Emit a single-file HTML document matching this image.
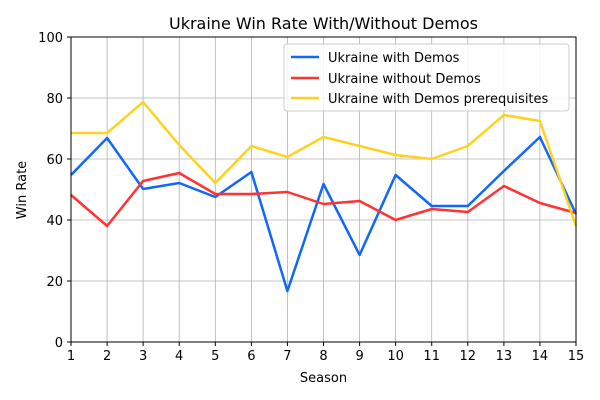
<!DOCTYPE html>
<html><head><meta charset="utf-8"><style>body{margin:0;background:#fff}svg{display:block;font-family:"DejaVu Sans","Liberation Sans",sans-serif}</style></head><body>
<svg width="600" height="400" viewBox="0 0 600 400">
<rect width="600" height="400" fill="#fff"/>
<g stroke="#b0b0b0" stroke-width="0.8">
<line x1="107.1" y1="37" x2="107.1" y2="342"/><line x1="143.1" y1="37" x2="143.1" y2="342"/><line x1="179.2" y1="37" x2="179.2" y2="342"/><line x1="215.3" y1="37" x2="215.3" y2="342"/><line x1="251.4" y1="37" x2="251.4" y2="342"/><line x1="287.4" y1="37" x2="287.4" y2="342"/><line x1="323.5" y1="37" x2="323.5" y2="342"/><line x1="359.6" y1="37" x2="359.6" y2="342"/><line x1="395.6" y1="37" x2="395.6" y2="342"/><line x1="431.7" y1="37" x2="431.7" y2="342"/><line x1="467.8" y1="37" x2="467.8" y2="342"/><line x1="503.9" y1="37" x2="503.9" y2="342"/><line x1="539.9" y1="37" x2="539.9" y2="342"/>
<line x1="71" y1="281" x2="576" y2="281"/><line x1="71" y1="220" x2="576" y2="220"/><line x1="71" y1="159" x2="576" y2="159"/><line x1="71" y1="98" x2="576" y2="98"/>
</g>
<g fill="none" stroke-width="2.5" stroke-linejoin="round">
<polyline stroke="#0f68fb" points="71,175 107.1,138 143.1,189 179.2,183 215.3,197 251.4,172 287.4,291 323.5,184 359.6,255 395.6,175 431.7,206 467.8,206 503.9,171 539.9,137 576,214"/>
<polyline stroke="#ff3333" points="71,195 107.1,226 143.1,181 179.2,173 215.3,194 251.4,194 287.4,192 323.5,204 359.6,201 395.6,220 431.7,209 467.8,212 503.9,186 539.9,203 576,213"/>
<polyline stroke="#ffd21f" points="71,133 107.1,133 143.1,102 179.2,145 215.3,183 251.4,146 287.4,157 323.5,137 359.6,146 395.6,155 431.7,159 467.8,146 503.9,115 539.9,121 576,226"/>
</g>
<rect x="71" y="37" width="505" height="305" fill="none" stroke="#000" stroke-width="1"/>
<g stroke="#000"><line x1="71" y1="342" x2="71" y2="346"/><line x1="107.1" y1="342" x2="107.1" y2="346"/><line x1="143.1" y1="342" x2="143.1" y2="346"/><line x1="179.2" y1="342" x2="179.2" y2="346"/><line x1="215.3" y1="342" x2="215.3" y2="346"/><line x1="251.4" y1="342" x2="251.4" y2="346"/><line x1="287.4" y1="342" x2="287.4" y2="346"/><line x1="323.5" y1="342" x2="323.5" y2="346"/><line x1="359.6" y1="342" x2="359.6" y2="346"/><line x1="395.6" y1="342" x2="395.6" y2="346"/><line x1="431.7" y1="342" x2="431.7" y2="346"/><line x1="467.8" y1="342" x2="467.8" y2="346"/><line x1="503.9" y1="342" x2="503.9" y2="346"/><line x1="539.9" y1="342" x2="539.9" y2="346"/><line x1="576" y1="342" x2="576" y2="346"/>
<line x1="67" y1="342" x2="71" y2="342"/><line x1="67" y1="281" x2="71" y2="281"/><line x1="67" y1="220" x2="71" y2="220"/><line x1="67" y1="159" x2="71" y2="159"/><line x1="67" y1="98" x2="71" y2="98"/><line x1="67" y1="37" x2="71" y2="37"/></g>
<g font-size="13" text-anchor="middle" fill="#000">
<text x="71" y="360">1</text><text x="107.1" y="360">2</text><text x="143.1" y="360">3</text><text x="179.2" y="360">4</text><text x="215.3" y="360">5</text><text x="251.4" y="360">6</text><text x="287.4" y="360">7</text><text x="323.5" y="360">8</text><text x="359.6" y="360">9</text><text x="395.6" y="360">10</text><text x="431.7" y="360">11</text><text x="467.8" y="360">12</text><text x="503.9" y="360">13</text><text x="539.9" y="360">14</text><text x="576" y="360">15</text>
</g>
<g font-size="13" text-anchor="end"><text x="63" y="347">0</text><text x="63" y="286">20</text><text x="63" y="225">40</text><text x="63" y="164">60</text><text x="63" y="103">80</text><text x="63" y="42">100</text></g>
<text x="323.5" y="382" font-size="13" text-anchor="middle">Season</text>
<text x="26" y="190" font-size="13" text-anchor="middle" transform="rotate(-90 26 190)">Win Rate</text>
<text x="323.5" y="29" font-size="16" text-anchor="middle">Ukraine Win Rate With/Without Demos</text>
<rect x="284" y="44" width="285" height="67" rx="3" fill="#fff" fill-opacity="0.85" stroke="#ccc"/>
<g stroke-width="2.5"><line x1="291" y1="57" x2="319" y2="57" stroke="#0f68fb"/><line x1="291" y1="78" x2="319" y2="78" stroke="#ff3333"/><line x1="291" y1="98" x2="319" y2="98" stroke="#ffd21f"/></g>
<g font-size="13"><text x="328" y="62">Ukraine with Demos</text><text x="328" y="83">Ukraine without Demos</text><text x="328" y="103">Ukraine with Demos prerequisites</text></g>
</svg>
</body></html>
